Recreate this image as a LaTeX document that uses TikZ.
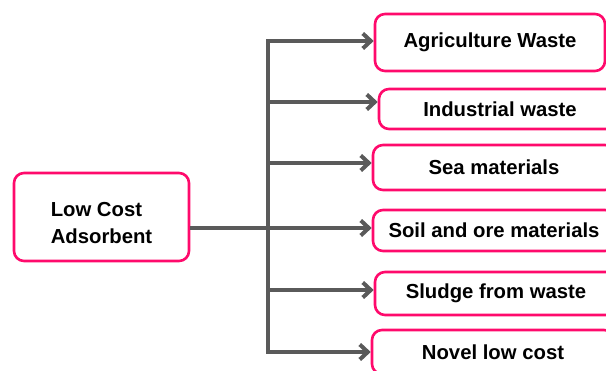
\documentclass[tikz,border=0pt]{standalone}
\usepackage{fontspec}
\setmainfont{Liberation Sans}
\usetikzlibrary{arrows.meta}
\definecolor{rim}{HTML}{FF0A6C}
\definecolor{wire}{HTML}{5A5A5A}
\begin{document}
\begin{tikzpicture}[x=1pt, y=-1pt,
      box/.style={draw=rim, line width=2.6pt, rounded corners=10pt, fill=white,
                  minimum width=242pt, inner sep=0pt,
                  font=\fontsize{20.3}{27}\selectfont\bfseries},
      link/.style={draw=wire, line width=4pt},
      arr/.style={link, -{Straight Barb[length=8pt, width=15pt]}}]
            \useasboundingbox (0,0) rectangle (606,371);
            % source box
            \node[box, minimum width=175pt, minimum height=88pt] (main) at (101.5,217)
                 {\raisebox{0pt}[\dimexpr\height+15pt\relax]{\begin{tabular}{@{}l@{}}Low Cost\\Adsorbent\end{tabular}}\hspace{10pt}};
            % the six kinds
            \node[box, minimum width=230pt, minimum height=57pt] (a1) at (490,42.5) {Agriculture Waste};
            \node[box, minimum height=40pt] (a2) at (500,109) {Industrial waste};
            \node[box, minimum height=45pt] (a3) at (494,167.5) {Sea materials};
            \node[box, minimum height=41pt] (a4) at (494,230.5) {Soil and ore materials};
            \node[box, minimum height=43pt] (a5) at (496,293.5) {Sludge from waste};
            \node[box, minimum height=44pt] (a6) at (493,352) {Novel low cost};
            % points on the trunk
            \coordinate (j0) at (268,228);
            \coordinate (j1) at (268,41);
            \coordinate (j2) at (268,102);
            \coordinate (j3) at (268,163);
            \coordinate (j4) at (268,228);
            \coordinate (j5) at (268,290);
            \coordinate (j6) at (268,352);
            \draw[link] (main.east |- j0) -- (j0);
            \draw[link, line cap=rect] (j1) -- (j6);
            \draw[arr] (j1) -- (j1 -| a1.west);
            \draw[arr] (j2) -- (j2 -| a2.west);
            \draw[arr] (j3) -- (j3 -| a3.west);
            \draw[arr] (j4) -- (j4 -| a4.west);
            \draw[arr] (j5) -- (j5 -| a5.west);
            \draw[arr] (j6) -- (j6 -| a6.west);
\end{tikzpicture}
\end{document}
